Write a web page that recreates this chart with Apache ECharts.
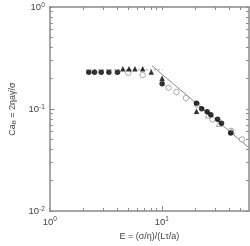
<!DOCTYPE html>
<html><head><meta charset="utf-8">
<script src="https://cdn.jsdelivr.net/npm/echarts@6/dist/echarts.min.js"></script>
<style>html,body{margin:0;padding:0;background:#fff}#c{width:250px;height:246px}</style>
</head><body><div id="c"></div>
<script>
// Data
var filledCircles = [[2.23,0.229],[2.51,0.229],[2.88,0.229],[3.37,0.229],[4.02,0.229],
  [10.07,0.177],[20.4,0.1137],[22.7,0.1004],[25.4,0.094],[27.4,0.088],[31.5,0.0794],[34.1,0.0726],[41.2,0.0583]];
var filledTriangles = [[4.49,0.248],[5.09,0.248],[5.76,0.248],[6.75,0.248],[8.05,0.23],[10.07,0.2],[20.4,0.095]];
var openCircles = [[5.02,0.226],[6.75,0.215],[11.5,0.162],[13.5,0.147],[16.4,0.128],[20.7,0.110],[28.4,0.0788],[41.5,0.061],[51.9,0.0503]];
var openTriangles = [[25.9,0.0867],[32.4,0.0716],[42.1,0.0605]];
var plateauLine = [[2.1,0.243],[10.2,0.243]];
var powerLine = [[8.17,0.265],[60,0.0417]];
var xMajor = [1,10];
var xMinor = [2,3,4,5,6,7,8,9,20,30,40,50];
var yMajor = [0.01,0.1,1];
var yMinor = [0.02,0.03,0.04,0.05,0.06,0.07,0.08,0.09,0.2,0.3,0.4,0.5,0.6,0.7,0.8,0.9];

function fmt(v){ var e = Math.round(Math.log10(v)); return '{b|10}{s|' + e + '}'; }

var AX = '#8a8a8a', TXT = '#444';
var font = 'Liberation Sans, Arial, sans-serif';
var labRich = {b:{fontSize:9.5,color:TXT,fontFamily:font,lineHeight:11,verticalAlign:'bottom'}, s:{fontSize:6.5,color:TXT,fontFamily:font,lineHeight:11,verticalAlign:'top'}};
var allX = xMajor.concat(xMinor), allY = yMajor.concat(yMinor);
function xa(pos, ticks, len, lbl, line){
  return {type:'log', min:1, max:60, position:pos, logBase:10,
    axisLine:{show:line, onZero:false, lineStyle:{color:AX,width:1.5}},
    axisTick:{show:true, inside:true, length:len, customValues:ticks, lineStyle:{color:AX,width:1}},
    axisLabel:{show:lbl, customValues:xMajor, formatter:fmt, rich:labRich, margin:5},
    splitLine:{show:false}, minorTick:{show:false}};
}
function ya(pos, ticks, len, lbl, line){
  return {type:'log', min:0.01, max:1, position:pos, logBase:10,
    axisLine:{show:line, onZero:false, lineStyle:{color:AX,width:1.5}},
    axisTick:{show:true, inside:true, length:len, customValues:ticks, lineStyle:{color:AX,width:1}},
    axisLabel:{show:lbl, customValues:yMajor, formatter:fmt, rich:labRich, margin:5},
    splitLine:{show:false}, minorTick:{show:false}};
}
var x0 = xa('bottom', allX, 3, true, true);
x0.name = 'E = (σ/η)/(Lτ/a)'; x0.nameLocation='middle'; x0.nameGap=21;
x0.nameTextStyle = {color:TXT, fontSize:9, fontFamily:font};
var y0 = ya('left', allY, 3, true, true);
y0.name = '{n|Ca}{s|B}{n| = 2ηaγ̇/σ}'; y0.nameLocation='middle'; y0.nameGap=21; y0.nameRotate=90;
y0.nameTextStyle = {color:TXT, fontSize:9, fontFamily:font, rich:{n:{fontSize:9,color:TXT,fontFamily:font}, s:{fontSize:6,color:TXT,fontFamily:font,verticalAlign:'bottom',padding:[4,0,0,0]}}};

var option = {
  animation:false,
  grid:{left:40, right:1, top:7, bottom:30, containLabel:false},
  xAxis:[x0, xa('top', allX, 3, false, true), xa('bottom', [10], 5, false, false)],
  yAxis:[y0, ya('right', allY, 3, false, true), ya('left', [0.1], 5, false, false)],
  series:[
    {type:'line', data:plateauLine, showSymbol:false, lineStyle:{color:'#b5b5b5', width:1.2, type:[2,2]}, z:1},
    {type:'line', data:powerLine, showSymbol:false, lineStyle:{color:'#888', width:1}, z:1},
    {type:'scatter', data:openCircles, symbol:'circle', symbolSize:5.5, itemStyle:{color:'#fff', borderColor:'#999', borderWidth:1}, z:2},
    {type:'scatter', data:openTriangles, symbol:'triangle', symbolSize:5.5, itemStyle:{color:'#fff', borderColor:'#999', borderWidth:1}, z:2},
    {type:'scatter', data:filledCircles, symbol:'circle', symbolSize:5.5, itemStyle:{color:'#000'}, z:3},
    {type:'scatter', data:filledTriangles, symbol:'triangle', symbolSize:5.5, itemStyle:{color:'#000'}, z:3}
  ]
};
var chart = echarts.init(document.getElementById('c'), null, {renderer:'canvas'});
chart.setOption(option);
</script></body></html>
